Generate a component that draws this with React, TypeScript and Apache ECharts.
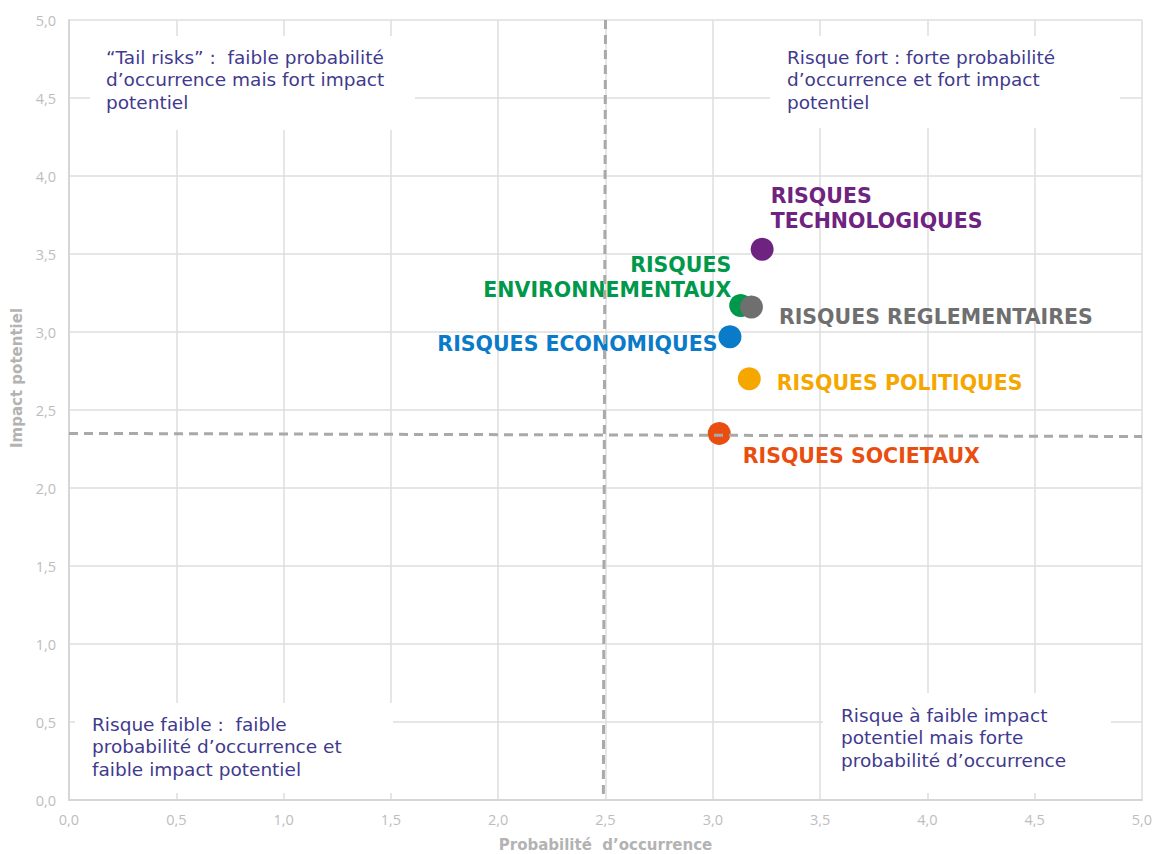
import React, { useEffect, useRef } from "react";
import * as echarts from "echarts";

// ---- Data ----
const riskNames = [
  "RISQUES\nTECHNOLOGIQUES",
  "RISQUES\nENVIRONNEMENTAUX",
  "RISQUES REGLEMENTAIRES",
  "RISQUES ECONOMIQUES",
  "RISQUES POLITIQUES",
  "RISQUES SOCIETAUX",
];
const probability = [3.23, 3.13, 3.18, 3.08, 3.17, 3.03];
const impact = [3.53, 3.17, 3.16, 2.97, 2.7, 2.35];
const riskColors = ["#6e2381", "#00984a", "#6f6f6f", "#0a7bc8", "#f5a700", "#e94e10"];

// thresholds (dashed lines): [start, end] coordinates
const verticalThreshold = [[2.5, 5], [2.49, 0]];
const horizontalThreshold = [[0, 2.35], [5, 2.33]];

const xAxisName = "Probabilité  d’occurrence";
const yAxisName = "Impact potentiel";

const quadrantTexts = [
  "“Tail risks” :  faible probabilité\nd’occurrence mais fort impact\npotentiel",
  "Risque fort : forte probabilité\nd’occurrence et fort impact\npotentiel",
  "Risque faible :  faible\nprobabilité d’occurrence et\nfaible impact potentiel",
  "Risque à faible impact\npotentiel mais forte\nprobabilité d’occurrence",
];

// ---- Layout (pixels) ----
const labelLayout = [
  { position: [20, -4], align: "left", verticalAlign: "bottom" },
  { position: [2, 9], align: "right", verticalAlign: "bottom" },
  { position: [39, 21.5], align: "left", verticalAlign: "middle" },
  { position: [-1, 19], align: "right", verticalAlign: "middle" },
  { position: [39, 15.5], align: "left", verticalAlign: "middle" },
  { position: [35, 34.5], align: "left", verticalAlign: "middle" },
];

const quadrantBoxes = [
  { x: 90, y: 36, w: 325, h: 94, tx: 106, ty: 46 },
  { x: 770, y: 36, w: 350, h: 92, tx: 787, ty: 46 },
  { x: 75, y: 703, w: 318, h: 90, tx: 92, ty: 713 },
  { x: 823, y: 693, w: 288, h: 100, tx: 841, ty: 704 },
];

const fmt = (v: number) => v.toFixed(1).replace(".", ",");

export default function App() {
  const ref = useRef<HTMLDivElement>(null);

  useEffect(() => {
    if (!ref.current) return;
    const chart = echarts.init(ref.current, null, { renderer: "svg" });

    const graphics: any[] = [];
    quadrantBoxes.forEach((b, i) => {
      graphics.push({
        type: "rect",
        z: 5,
        silent: true,
        shape: { x: b.x, y: b.y, width: b.w, height: b.h },
        style: { fill: "#ffffff" },
      });
      graphics.push({
        type: "text",
        z: 6,
        silent: true,
        style: {
          text: quadrantTexts[i],
          x: b.tx,
          y: b.ty,
          fill: "#3f3a8e",
          fontFamily: "DejaVu Sans",
          fontSize: 18.5,
          lineHeight: 22.5,
          verticalAlign: "top",
          align: "left",
        },
      });
    });

    const series: any[] = [
      {
        type: "scatter",
        name: "seuils",
        z: 1,
        data: [],
        silent: true,
        markLine: {
          silent: true,
          symbol: "none",
          label: { show: false },
          lineStyle: { type: [9, 6], color: "#a9a9a9", width: 3 },
          data: [
            [{ coord: verticalThreshold[0] }, { coord: verticalThreshold[1] }],
            [{ coord: horizontalThreshold[0] }, { coord: horizontalThreshold[1] }],
          ],
        },
      },
    ];

    riskNames.forEach((name, i) => {
      series.push({
        type: "scatter",
        name,
        z: 3,
        symbol: "circle",
        symbolSize: 23,
        itemStyle: { color: riskColors[i], opacity: 1 },
        data: [[probability[i], impact[i]]],
        label: {
          show: true,
          formatter: name,
          position: labelLayout[i].position,
          align: labelLayout[i].align,
          verticalAlign: labelLayout[i].verticalAlign,
          color: riskColors[i],
          fontFamily: "DejaVu Sans",
          fontWeight: "bold",
          fontSize: 20.5,
          lineHeight: 25,
        },
      });
    });

    chart.setOption({
      animation: false,
      backgroundColor: "#ffffff",
      grid: {
        left: 69,
        right: 12,
        top: 20,
        bottom: 54,
        containLabel: false,
        outerBoundsMode: "none",
      },
      xAxis: {
        type: "value",
        min: 0,
        max: 5,
        interval: 0.5,
        name: xAxisName,
        nameLocation: "middle",
        nameGap: 37,
        nameTextStyle: {
          color: "#b3b3b3",
          fontFamily: "DejaVu Sans",
          fontWeight: "bold",
          fontSize: 15,
        },
        axisLine: { show: true, lineStyle: { color: "#d6d6d6", width: 2 } },
        axisTick: { show: false },
        axisLabel: {
          color: "#bdbdbd",
          fontFamily: "Open Sans",
          fontSize: 14.5,
          margin: 12,
          formatter: fmt,
        },
        splitLine: { show: true, lineStyle: { color: "#dedede", width: 1.5 } },
      },
      yAxis: {
        type: "value",
        min: 0,
        max: 5,
        interval: 0.5,
        name: yAxisName,
        nameLocation: "middle",
        nameGap: 45,
        nameRotate: 90,
        nameTextStyle: {
          color: "#b3b3b3",
          fontFamily: "DejaVu Sans",
          fontWeight: "bold",
          fontSize: 15,
          padding: [0, 0, 0, 64],
        },
        axisLine: { show: true, lineStyle: { color: "#d6d6d6", width: 2 } },
        axisTick: { show: false },
        axisLabel: {
          color: "#bdbdbd",
          fontFamily: "Open Sans",
          fontSize: 14.5,
          margin: 13,
          formatter: fmt,
        },
        splitLine: { show: true, lineStyle: { color: "#dedede", width: 1.5 } },
      },
      graphic: graphics,
      series,
    });

    return () => chart.dispose();
  }, []);

  return (
    <div
      ref={ref}
      style={{ position: "absolute", left: 0, top: 0, width: 1154, height: 854 }}
    />
  );
}
